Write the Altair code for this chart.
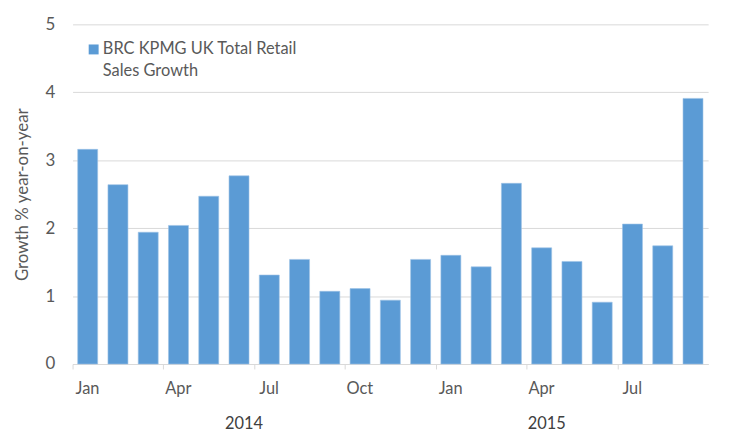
import altair as alt
import pandas as pd

months = ["Jan", "Feb", "Mar", "Apr", "May", "Jun", "Jul", "Aug", "Sep", "Oct", "Nov", "Dec",
          "Jan", "Feb", "Mar", "Apr", "May", "Jun", "Jul", "Aug", "Sep"]
years = [2014] * 12 + [2015] * 9
growth = [3.16, 2.64, 1.94, 2.04, 2.47, 2.77, 1.31, 1.54, 1.07, 1.11, 0.94, 1.54,
          1.60, 1.43, 2.66, 1.71, 1.51, 0.91, 2.06, 1.74, 3.91]
series_name = "BRC KPMG UK Total Retail Sales Growth"
tick_months = ["Jan 2014", "Apr 2014", "Jul 2014", "Oct 2014", "Jan 2015", "Apr 2015", "Jul 2015"]
year_labels = ["2014", "2015"]
year_anchor = ["Jun 2014", "Apr 2015"]
y_ticks = [0, 1, 2, 3, 4, 5]

periods = [f"{m} {y}" for m, y in zip(months, years)]
df = pd.DataFrame({"period": periods, "growth": growth, "series": series_name})
ydf = pd.DataFrame({"period": year_anchor, "label": year_labels})

FONT = "Lato"
W, H = 640, 342

xscale = alt.Scale(domain=periods, paddingInner=0.34, paddingOuter=0.17)

bars = alt.Chart(df).mark_bar(stroke="#9DC3E6", strokeWidth=0.6).encode(
    x=alt.X("period:N", sort=periods, scale=xscale,
            axis=alt.Axis(values=tick_months, title=None,
                          labelExpr="split(datum.value, ' ')[0]",
                          bandPosition=0, tickOffset=-5.2,
                          labelAlign="center", labelOffset=4.5,
                          labelAngle=0, labelPadding=12,
                          labelFont=FONT, labelFontSize=16.5, labelColor="#595959",
                          domainColor="#d9d9d9", tickColor="#d9d9d9",
                          tickSize=5, grid=False)),
    y=alt.Y("growth:Q", scale=alt.Scale(domain=[0, 5], nice=False),
            axis=alt.Axis(values=y_ticks, title="Growth % year-on-year",
                          titleFont=FONT, titleFontSize=17, titleFontWeight="normal",
                          titleColor="#595959", titlePadding=14,
                          labelFont=FONT, labelFontSize=17, labelColor="#595959",
                          labelPadding=18, domain=False, ticks=False,
                          grid=True, gridColor="#d9d9d9")),
    color=alt.Color("series:N", scale=alt.Scale(range=["#5B9BD5"]),
                    legend=alt.Legend(title=None, orient="none", legendX=13, legendY=17,
                                      symbolType="square", symbolSize=100,
                                      symbolStrokeWidth=0,
                                      labelExpr="['BRC KPMG UK Total Retail', 'Sales Growth']",
                                      labelFont=FONT, labelFontSize=16.5,
                                      labelColor="#595959", labelLimit=400,
                                      labelBaseline="middle", labelOffset=1)),
)

years_text = alt.Chart(ydf).mark_text(font=FONT, fontSize=16.5, color="#404040",
                                      dx=5, baseline="middle").encode(
    x=alt.X("period:N", sort=periods, scale=xscale),
    y=alt.value(H + 60),
    text="label:N",
)

chart = alt.layer(bars, years_text).properties(
    width=W, height=H,
    autosize=alt.AutoSizeParams(type="none"),
    padding={"left": 65, "top": 15, "right": 20, "bottom": 70},
).configure(
    view={"stroke": "transparent", "strokeWidth": 0},
    style={"guide-label": {"lineHeight": 21.5}},
)

chart.save("out.html", embed_options={"renderer": "svg", "actions": False})
